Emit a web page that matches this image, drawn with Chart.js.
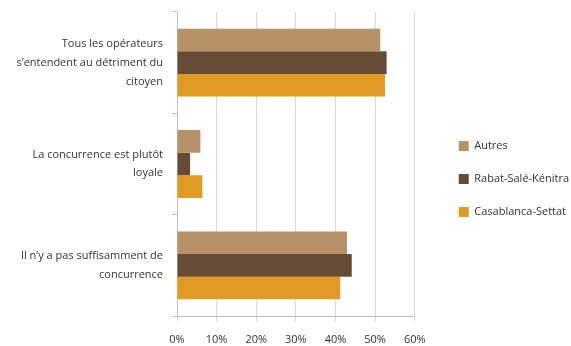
<!DOCTYPE html>
<html>
<head>
<meta charset="utf-8">
<script src="https://cdn.jsdelivr.net/npm/chart.js@4"></script>
<style>
  html, body { margin: 0; padding: 0; background: #fff; }
  #wrap { position: relative; width: 571px; height: 346px; }
</style>
</head>
<body>
<div id="wrap"><canvas id="chart"></canvas></div>
<script>
// Perception de la concurrence, par région
var categories = [
  ['Tous les opérateurs', 's\u2019entendent au détriment du', 'citoyen'],
  ['La concurrence est plutôt', 'loyale'],
  ['Il n\u2019y a pas suffisamment de', 'concurrence']
];
var autres = [51.3, 5.9, 42.9];
var rabat = [52.9, 3.3, 44.1];
var casablanca = [52.5, 6.4, 41.2];
var seriesNames = ['Autres', 'Rabat-Salé-Kénitra', 'Casablanca-Settat'];
var seriesColors = ['#b79168', '#664c37', '#e19b25'];

Chart.defaults.font.family = '"Open Sans", "Noto Sans", sans-serif';
Chart.defaults.font.size = 11;
Chart.defaults.color = '#333';

// plus d'espace entre la zone du graphique et la légende
var legendGap = {
  id: 'legendGap',
  beforeInit: function(chart) {
    var lg = chart.legend;
    var fit = lg.fit;
    lg.fit = function() {
      fit.call(this);
      this.width += 9;
    };
  },
  afterLayout: function(chart) {
    chart.legend.left += 22;
    chart.legend.right += 22;
  }
};

var ctx = document.getElementById('chart').getContext('2d');
new Chart(ctx, {
  type: 'bar',
  data: {
    labels: categories,
    datasets: [autres, rabat, casablanca].map(function(values, i) {
      return {
        label: seriesNames[i],
        data: values,
        backgroundColor: seriesColors[i],
        barPercentage: 1,
        categoryPercentage: 0.67
      };
    })
  },
  options: {
    indexAxis: 'y',
    responsive: true,
    maintainAspectRatio: false,
    animation: false,
    layout: { padding: { top: 12, right: 6, left: 0, bottom: 0 } },
    plugins: {
      legend: {
        position: 'right',
        labels: {
          boxWidth: 10,
          boxHeight: 10,
          padding: 22,
          color: '#333'
        }
      },
      tooltip: { enabled: false }
    },
    scales: {
      x: {
        min: 0,
        max: 60,
        ticks: {
          stepSize: 10,
          callback: function(v) { return v + '%'; },
          padding: 12
        },
        grid: { color: '#d9d9d9', tickLength: 5 },
        border: { color: '#bfbfbf' },
        afterFit: function(scale) {
          scale.height = 30;
          scale.paddingLeft = 0;
          scale.paddingRight = 0;
        }
      },
      y: {
        ticks: {
          padding: 9,
          font: { lineHeight: 1.7 }
        },
        grid: { drawOnChartArea: false, offset: true, color: '#bfbfbf', tickLength: 5 },
        border: { color: '#bfbfbf' },
        afterFit: function(scale) {
          scale.width = 177;
          scale.paddingTop = 0;
          scale.paddingBottom = 0;
        }
      }
    }
  },
  plugins: [legendGap]
});
</script>
</body>
</html>
